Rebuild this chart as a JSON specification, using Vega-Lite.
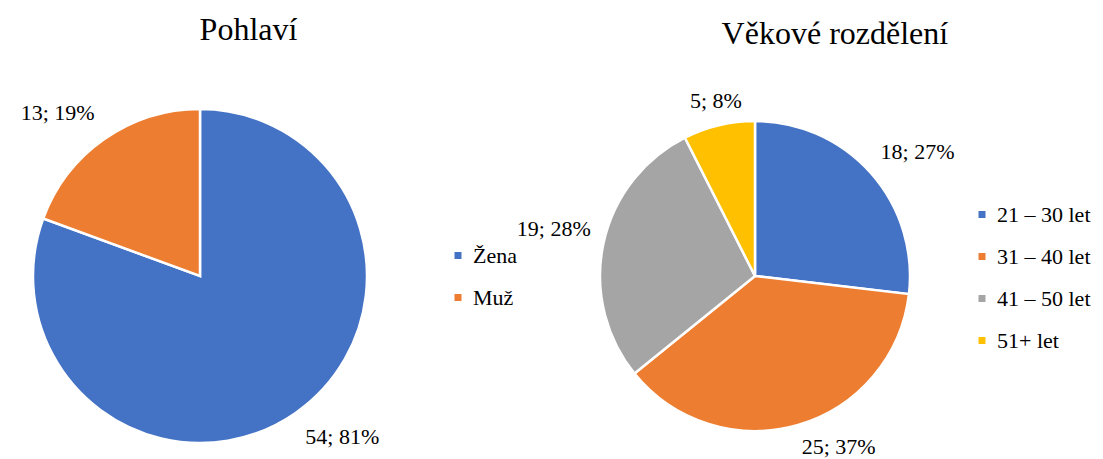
{
  "$schema": "https://vega.github.io/schema/vega-lite/v6.json",
  "padding": {"top": 13, "left": 0, "right": 0, "bottom": 0},
  "autosize": {"type": "pad"},
  "background": "white",
  "bounds": "flush",
  "config": {
    "view": {"stroke": null},
    "font": "Liberation Serif",
    "title": {"fontSize": 32, "fontWeight": "normal", "font": "Liberation Serif", "color": "black"},
    "legend": {"title": null, "symbolType": "square", "symbolSize": 49, "symbolStrokeWidth": 0, "labelFontSize": 22, "labelFont": "Liberation Serif", "labelColor": "black", "rowPadding": 20, "labelOffset": 4}
  },
  "datasets": {
    "pohlavi": [
      {"kategorie": "Žena", "pocet": 54, "poradi": 1, "label": "54; 81%"},
      {"kategorie": "Muž", "pocet": 13, "poradi": 2, "label": "13; 19%"}
    ],
    "vek": [
      {"kategorie": "21 – 30 let", "pocet": 18, "poradi": 1, "label": "18; 27%"},
      {"kategorie": "31 – 40 let", "pocet": 25, "poradi": 2, "label": "25; 37%"},
      {"kategorie": "41 – 50 let", "pocet": 19, "poradi": 3, "label": "19; 28%"},
      {"kategorie": "51+ let", "pocet": 5, "poradi": 4, "label": "5; 8%"}
    ]
  },
  "spacing": 145,
  "hconcat": [
    {
      "width": 400,
      "height": 360,
      "title": {"text": "Pohlaví", "frame": "bounds", "offset": 49.5, "dx": -10},
      "data": {"name": "pohlavi"},
      "encoding": {
        "theta": {"field": "pocet", "type": "quantitative", "stack": true},
        "order": {"field": "poradi", "type": "quantitative"}
      },
      "layer": [
        {
          "mark": {"type": "arc", "outerRadius": 167, "stroke": "white", "strokeWidth": 2.5},
          "encoding": {
            "color": {"field": "kategorie", "type": "nominal", "sort": null,
              "scale": {"domain": ["Žena", "Muž"], "range": ["#4472C4", "#ED7D31"]},
              "legend": {"orient": "none", "legendX": 447, "legendY": 148.5}}
          }
        },
        {
          "transform": [{"joinaggregate": [{"op": "sum", "field": "pocet", "as": "celkem"}]}],
          "mark": {"type": "text", "radius": 184, "fontSize": 22, "font": "Liberation Serif", "color": "black",
            "align": {"expr": "sin(PI*(datum.pocet_start+datum.pocet_end)/datum.celkem) > 0.25 ? 'left' : (sin(PI*(datum.pocet_start+datum.pocet_end)/datum.celkem) < -0.25 ? 'right' : 'center')"},
            "baseline": {"expr": "cos(PI*(datum.pocet_start+datum.pocet_end)/datum.celkem) > 0.2 ? 'bottom' : (cos(PI*(datum.pocet_start+datum.pocet_end)/datum.celkem) < -0.2 ? 'top' : 'middle')"}},
          "encoding": {"text": {"field": "label", "type": "nominal"}}
        }
      ]
    },
    {
      "width": 420,
      "height": 360,
      "title": {"text": "Věkové rozdělení", "frame": "bounds", "offset": 39, "dx": 31},
      "data": {"name": "vek"},
      "encoding": {
        "theta": {"field": "pocet", "type": "quantitative", "stack": true},
        "order": {"field": "poradi", "type": "quantitative"}
      },
      "layer": [
        {
          "mark": {"type": "arc", "outerRadius": 155, "stroke": "white", "strokeWidth": 2.5},
          "encoding": {
            "color": {"field": "kategorie", "type": "nominal", "sort": null,
              "scale": {"domain": ["21 – 30 let", "31 – 40 let", "41 – 50 let", "51+ let"], "range": ["#4472C4", "#ED7D31", "#A5A5A5", "#FFC000"]},
              "legend": {"orient": "none", "legendX": 426, "legendY": 107.5}}
          }
        },
        {
          "transform": [{"joinaggregate": [{"op": "sum", "field": "pocet", "as": "celkem"}]}],
          "mark": {"type": "text", "radius": 168, "fontSize": 22, "font": "Liberation Serif", "color": "black",
            "align": {"expr": "sin(PI*(datum.pocet_start+datum.pocet_end)/datum.celkem) > 0.25 ? 'left' : (sin(PI*(datum.pocet_start+datum.pocet_end)/datum.celkem) < -0.25 ? 'right' : 'center')"},
            "baseline": {"expr": "cos(PI*(datum.pocet_start+datum.pocet_end)/datum.celkem) > 0.2 ? 'bottom' : (cos(PI*(datum.pocet_start+datum.pocet_end)/datum.celkem) < -0.2 ? 'top' : 'middle')"}},
          "encoding": {"text": {"field": "label", "type": "nominal"}}
        }
      ]
    }
  ],
  "resolve": {"scale": {"color": "independent", "theta": "independent"}, "legend": {"color": "independent"}}
}
